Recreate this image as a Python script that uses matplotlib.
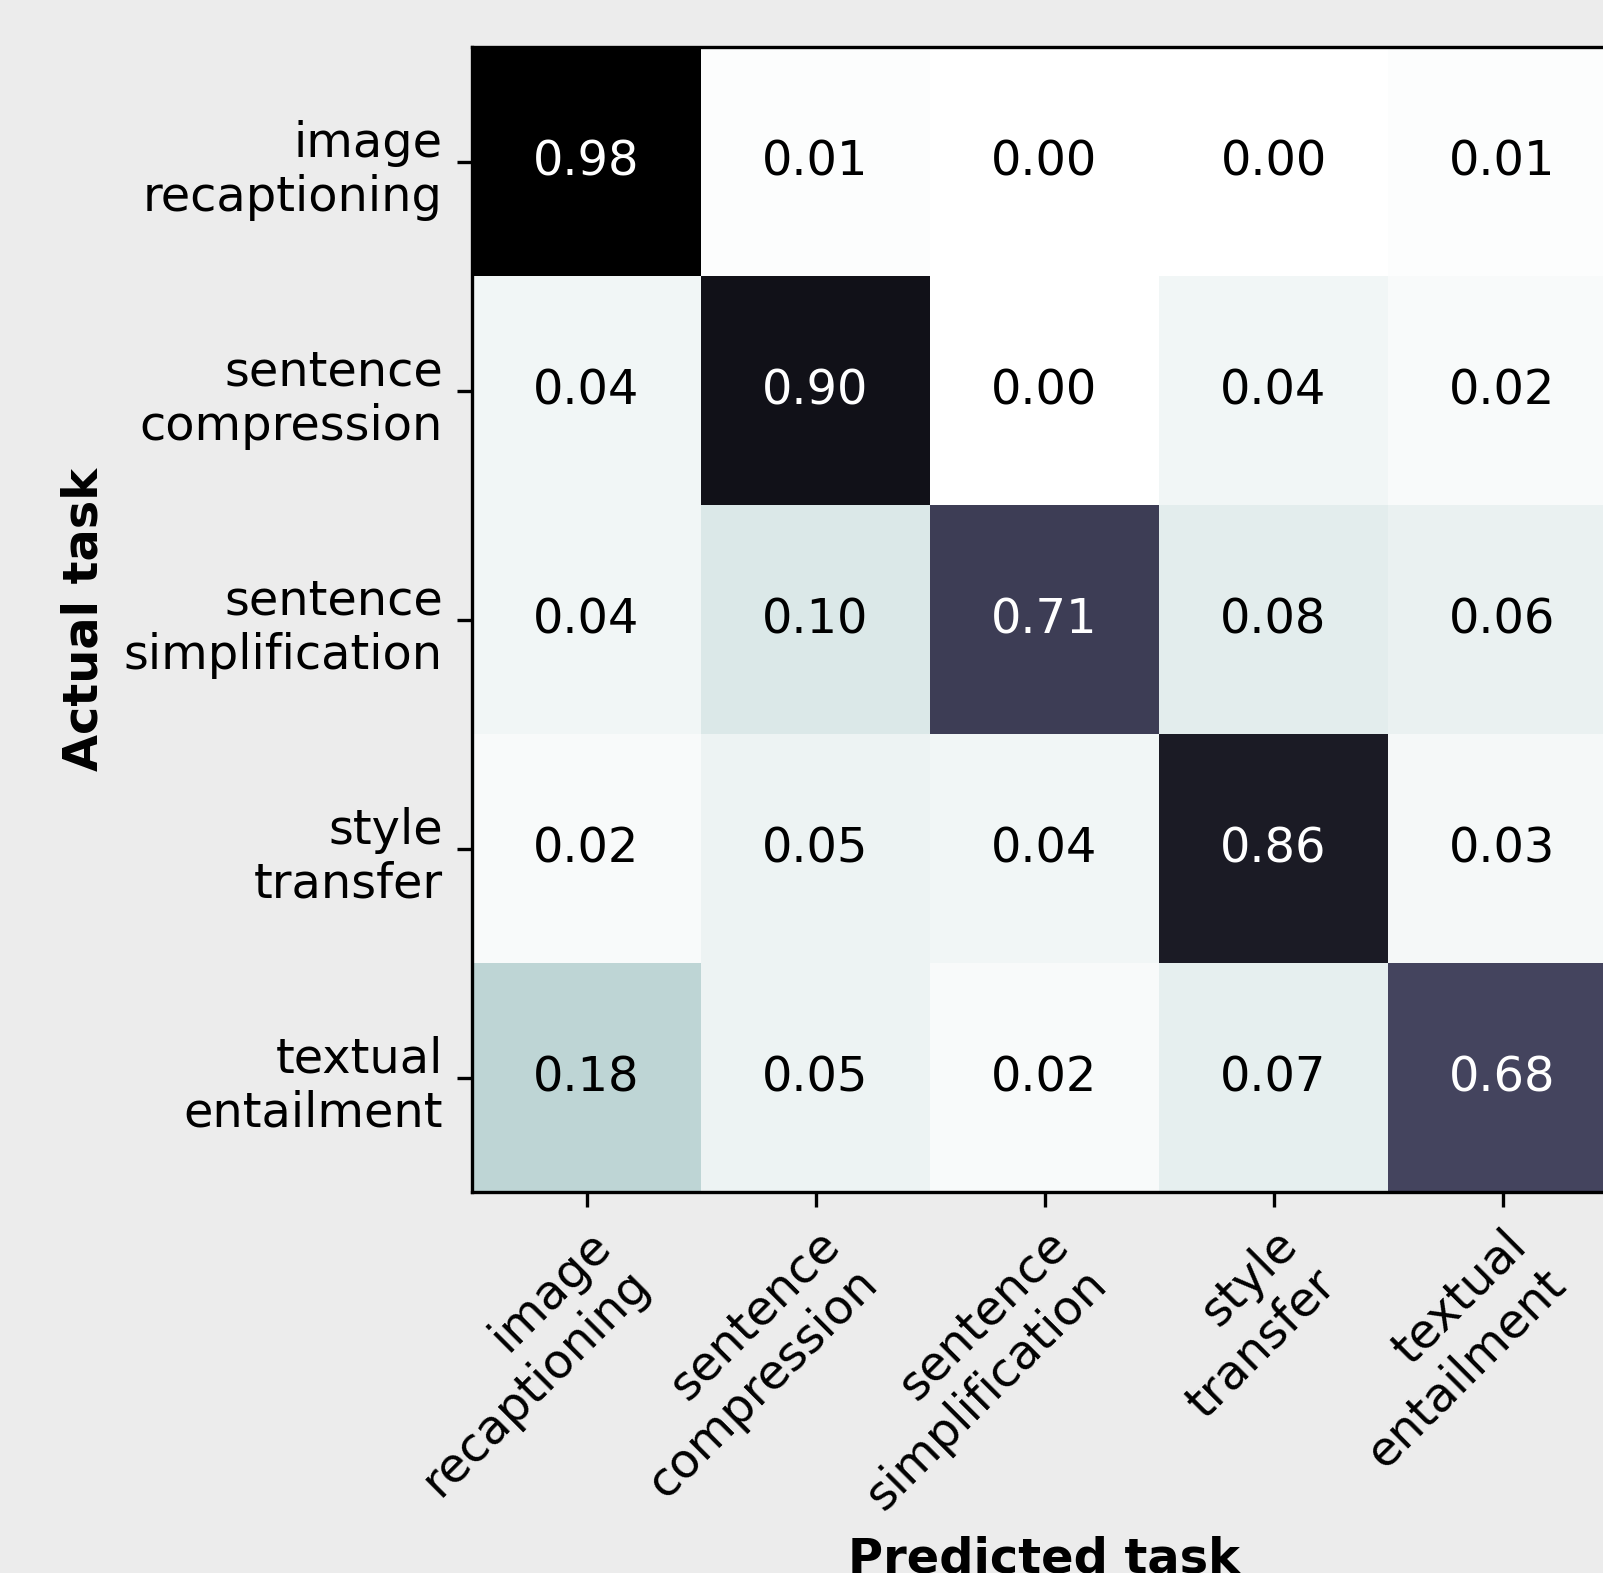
import numpy as np
import matplotlib
matplotlib.use("Agg")
import matplotlib.pyplot as plt

tasks = ["image\nrecaptioning", "sentence\ncompression", "sentence\nsimplification",
         "style\ntransfer", "textual\nentailment"]
row_image = [0.98, 0.01, 0.00, 0.00, 0.01]
row_compression = [0.04, 0.90, 0.00, 0.04, 0.02]
row_simplification = [0.04, 0.10, 0.71, 0.08, 0.06]
row_style = [0.02, 0.05, 0.04, 0.86, 0.03]
row_entailment = [0.18, 0.05, 0.02, 0.07, 0.68]

cm = np.array([row_image, row_compression, row_simplification, row_style, row_entailment])

plt.rcParams['font.size'] = 11.5
fig = plt.figure(figsize=(1603/300, 1573/300), dpi=300, facecolor='#ececec')
ax = fig.add_axes([472/1603, (1573-1192)/1573, 1145/1603, 1145/1573])

ax.imshow(cm, cmap='bone_r', vmin=0, vmax=cm.max(), aspect='auto')
ax.set_xticks(range(len(tasks)))
ax.set_yticks(range(len(tasks)))
ax.set_xticklabels(tasks)
ax.set_yticklabels(tasks)
plt.setp(ax.get_xticklabels(), rotation=45, ha='right', rotation_mode='anchor')

thresh = cm.max() / 2
for i in range(cm.shape[0]):
    for j in range(cm.shape[1]):
        ax.text(j, i, '%.2f' % cm[i, j], ha='center', va='center',
                color='white' if cm[i, j] > thresh else 'black')

ax.set_xlabel('Predicted task', fontweight='bold')
ax.set_ylabel('Actual task', fontweight='bold')

fig.savefig('out.png', dpi=300, facecolor=fig.get_facecolor())
